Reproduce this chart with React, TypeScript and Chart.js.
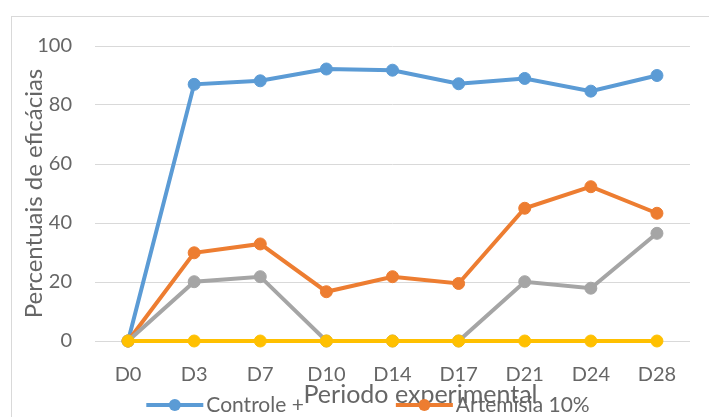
import React, { useEffect, useRef } from 'react';
import { Chart, registerables } from 'chart.js';

Chart.register(...registerables);

const categories = ['D0', 'D3', 'D7', 'D10', 'D14', 'D17', 'D21', 'D24', 'D28'];
const controlePositivo = [0, 87, 88.2, 92.2, 91.8, 87.2, 89, 84.7, 90];
const artemisia10 = [0, 29.9, 32.9, 16.7, 21.8, 19.5, 45, 52.3, 43.3];
const artemisia5 = [0, 20.1, 21.8, 0, 0, 0, 20.1, 17.9, 36.5];
const controleNegativo = [0, 0, 0, 0, 0, 0, 0, 0, 0];
const seriesNames = ['Controle +', 'Artemisia 10%', 'Artemisia 5%', 'Controle -'];
const seriesColors = ['#5B9BD5', '#ED7D31', '#A5A5A5', '#FFC000'];
const yTicks = [0, 20, 40, 60, 80, 100];
const yTitle = 'Percentuais de eficácias';
const xTitle = 'Periodo experimental';

const FONT = 'Lato, "Open Sans", sans-serif';
const TEXT = '#666666';

export default function App() {
  const ref = useRef<HTMLCanvasElement>(null);

  useEffect(() => {
    if (!ref.current) return;
    const seriesData = [controlePositivo, artemisia10, artemisia5, controleNegativo];

    const bottomPlugin = {
      id: 'excelBottom',
      afterDraw(chart: any) {
        const { ctx, chartArea: ca } = chart;
        ctx.save();
        // x axis title
        ctx.fillStyle = TEXT;
        ctx.font = `25px ${FONT}`;
        ctx.textAlign = 'center';
        ctx.textBaseline = 'alphabetic';
        ctx.fillText(xTitle, (ca.left + ca.right) / 2 + 28, ca.bottom + 62);

        // legend (line + marker)
        ctx.font = `21px ${FONT}`;
        const lineW = 57;
        const gapText = 3;
        const gapItem = 92;
        const rows = [[0, 1], [2, 3]];
        rows.forEach((row, r) => {
          const widths = row.map((i) => lineW + gapText + ctx.measureText(seriesNames[i]).width);
          const total = widths.reduce((a, b) => a + b, 0) + gapItem * (row.length - 1);
          let x = chart.width / 2 - total / 2;
          const y = ca.bottom + 64 + r * 26;
          row.forEach((i, k) => {
            const color = seriesColors[i];
            ctx.strokeStyle = color;
            ctx.lineWidth = 4;
            ctx.beginPath();
            ctx.moveTo(x, y);
            ctx.lineTo(x + lineW, y);
            ctx.stroke();
            ctx.fillStyle = color;
            ctx.beginPath();
            ctx.arc(x + lineW / 2, y, 6, 0, Math.PI * 2);
            ctx.fill();
            ctx.fillStyle = TEXT;
            ctx.textAlign = 'left';
            ctx.textBaseline = 'alphabetic';
            ctx.fillText(seriesNames[i], x + lineW + gapText, y + 7);
            x += widths[k] + gapItem;
          });
        });
        ctx.restore();
      },
    };

    const chart = new Chart(ref.current, {
      type: 'line',
      data: {
        labels: categories,
        datasets: seriesData.map((d, i) => ({
          label: seriesNames[i],
          data: d,
          borderColor: seriesColors[i],
          backgroundColor: seriesColors[i],
          pointBackgroundColor: seriesColors[i],
          pointBorderColor: seriesColors[i],
          borderWidth: 4,
          pointRadius: 6,
          pointBorderWidth: 1,
          tension: 0,
          fill: false,
          clip: false as any,
          order: 4 - i,
        })),
      },
      options: {
        animation: false,
        responsive: true,
        maintainAspectRatio: false,
        layout: { padding: { top: 29, right: 34, bottom: 0, left: 0 } },
        plugins: {
          legend: { display: false },
          tooltip: { enabled: false },
        },
        scales: {
          x: {
            type: 'category',
            offset: true,
            grid: { display: false, drawTicks: false },
            border: { display: false },
            ticks: {
              color: TEXT,
              padding: 22,
              font: { family: FONT, size: 20 },
              maxRotation: 0,
              autoSkip: false,
            },
            afterFit: (scale: any) => {
              scale.height = 116;
            },
          },
          y: {
            min: 0,
            max: 100,
            afterBuildTicks: (scale: any) => {
              scale.ticks = yTicks.map((v) => ({ value: v }));
            },
            grid: { color: '#d9d9d9', lineWidth: 1, drawTicks: false },
            border: { display: false },
            ticks: {
              color: TEXT,
              padding: 23,
              font: { family: FONT, size: 20 },
            },
            title: {
              display: true,
              text: yTitle,
              color: TEXT,
              font: { family: FONT, size: 24, weight: 'normal' },
              padding: { top: 8, bottom: 0 },
            },
            afterFit: (scale: any) => {
              scale.width = 83;
              scale.paddingTop = 0;
              scale.paddingBottom = 0;
            },
          },
        },
      },
      plugins: [bottomPlugin],
    });
    return () => chart.destroy();
  }, []);

  return (
    <div style={{ position: 'fixed', left: 0, top: 0, width: 709, height: 417, overflow: 'hidden', background: '#fff' }}>
      <div
        style={{
          position: 'absolute',
          left: 11,
          top: 16,
          width: 712,
          height: 440,
          border: '1px solid #d9d9d9',
          background: '#fff',
        }}
      >
        <canvas ref={ref} />
      </div>
    </div>
  );
}
